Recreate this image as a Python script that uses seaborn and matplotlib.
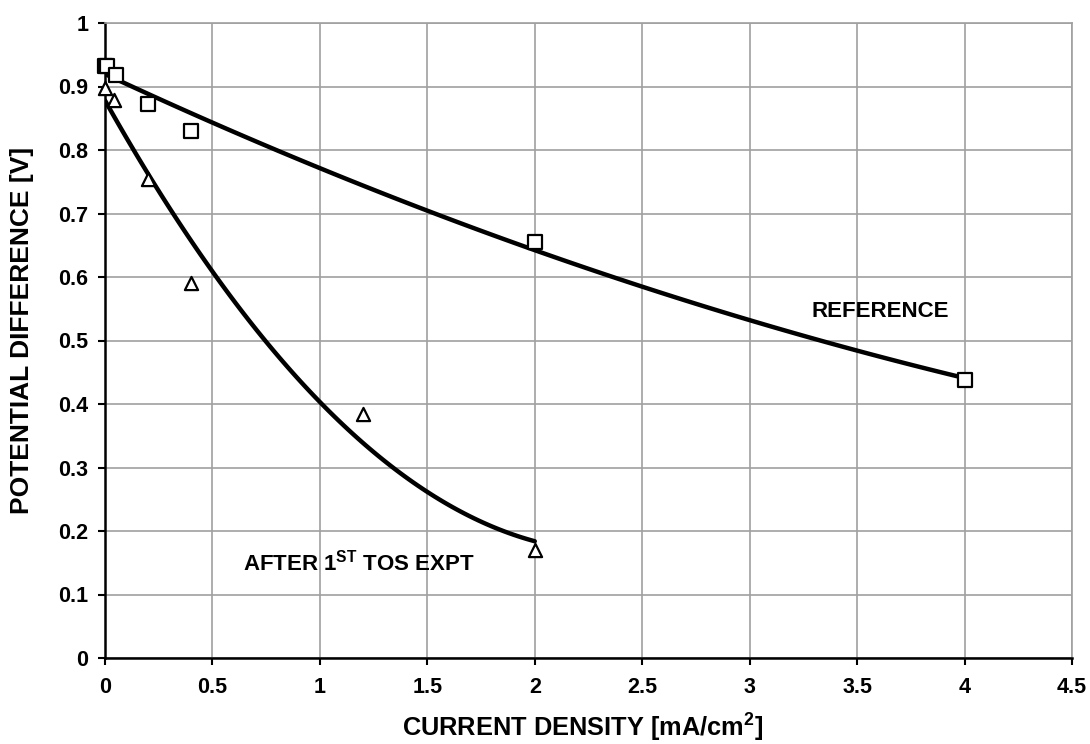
import numpy as np
import pandas as pd
import matplotlib
matplotlib.use("Agg")
import matplotlib.pyplot as plt
import seaborn as sns

ref_x = [0.0, 0.01, 0.05, 0.2, 0.4, 2.0, 4.0]
ref_y = [0.933, 0.933, 0.918, 0.872, 0.830, 0.655, 0.438]
tos_x = [0.0, 0.04, 0.2, 0.4, 1.2, 2.0]
tos_y = [0.897, 0.879, 0.754, 0.590, 0.385, 0.170]
xticks = [0, 0.5, 1, 1.5, 2, 2.5, 3, 3.5, 4, 4.5]
xticklabels = ["0", "0.5", "1", "1.5", "2", "2.5", "3", "3.5", "4", "4.5"]
yticks = [0, 0.1, 0.2, 0.3, 0.4, 0.5, 0.6, 0.7, 0.8, 0.9, 1.0]
yticklabels = ["0", "0.1", "0.2", "0.3", "0.4", "0.5", "0.6", "0.7", "0.8", "0.9", "1"]

sns.set_theme(style="white")
plt.rcParams["font.family"] = "Liberation Sans"
plt.rcParams["font.weight"] = "bold"
plt.rcParams["axes.labelweight"] = "bold"
plt.rcParams["text.color"] = "black"
plt.rcParams["axes.labelcolor"] = "black"
plt.rcParams["xtick.color"] = "black"
plt.rcParams["ytick.color"] = "black"
plt.rcParams["mathtext.fontset"] = "custom"
plt.rcParams["mathtext.bf"] = "Liberation Sans:bold"
plt.rcParams["mathtext.rm"] = "Liberation Sans:bold"
plt.rcParams["mathtext.default"] = "bf"

ref = pd.DataFrame({"x": ref_x, "y": ref_y})
tos = pd.DataFrame({"x": tos_x, "y": tos_y})

fig = plt.figure(figsize=(10.9, 7.44), dpi=100)
ax = fig.add_axes([105/1090, 1-658/744, (1072-105)/1090, (658-23)/744])

sns.regplot(data=ref, x="x", y="y", order=2, ci=None, truncate=True, ax=ax,
            scatter=False, line_kws=dict(color="black", lw=3.2))
sns.regplot(data=tos, x="x", y="y", order=2, ci=None, truncate=True, ax=ax,
            scatter=False, line_kws=dict(color="black", lw=3.2))
sns.scatterplot(data=ref, x="x", y="y", marker="s", s=100, facecolor="white",
                edgecolor="black", linewidth=1.6, ax=ax, zorder=5, clip_on=False)
sns.scatterplot(data=tos, x="x", y="y", marker="^", s=90, facecolor="white",
                edgecolor="black", linewidth=1.6, ax=ax, zorder=5, clip_on=False)

ax.set_xlim(0, 4.5)
ax.set_ylim(0, 1)
ax.set_xticks(xticks)
ax.set_xticklabels(xticklabels, fontsize=15.5, fontweight="bold")
ax.set_yticks(yticks)
ax.set_yticklabels(yticklabels, fontsize=15.5, fontweight="bold")
ax.grid(True, color="#a0a0a0", lw=1.2)
ax.set_axisbelow(True)
for s in ["top", "right"]:
    ax.spines[s].set_color("#a0a0a0")
    ax.spines[s].set_linewidth(1.2)
for s in ["left", "bottom"]:
    ax.spines[s].set_color("black")
    ax.spines[s].set_linewidth(1.8)
ax.tick_params(axis="both", direction="out", length=5, width=1.5, color="black",
               left=True, bottom=True)
ax.tick_params(axis="x", pad=9)
ax.tick_params(axis="y", pad=7)

ax.set_xlabel("CURRENT DENSITY [mA/cm$^{2}$]", fontsize=18.3, fontweight="bold",
              va="baseline")
ax.xaxis.set_label_coords((582.5 - 105) / 967, (658 - 737) / 635)
ax.set_ylabel("POTENTIAL DIFFERENCE [V]", fontsize=19, fontweight="bold", va="center")
ax.yaxis.set_label_coords((22 - 105) / 967, (658 - 330) / 635)

ax.text(3.61, 0.545, "REFERENCE", fontsize=16, fontweight="bold", ha="center", va="center")
ax.text(1.18, 0.151, "AFTER 1$^{\\mathbf{ST}}$ TOS EXPT", fontsize=16, fontweight="bold",
        ha="center", va="center")

fig.savefig("out.png", dpi=100)
